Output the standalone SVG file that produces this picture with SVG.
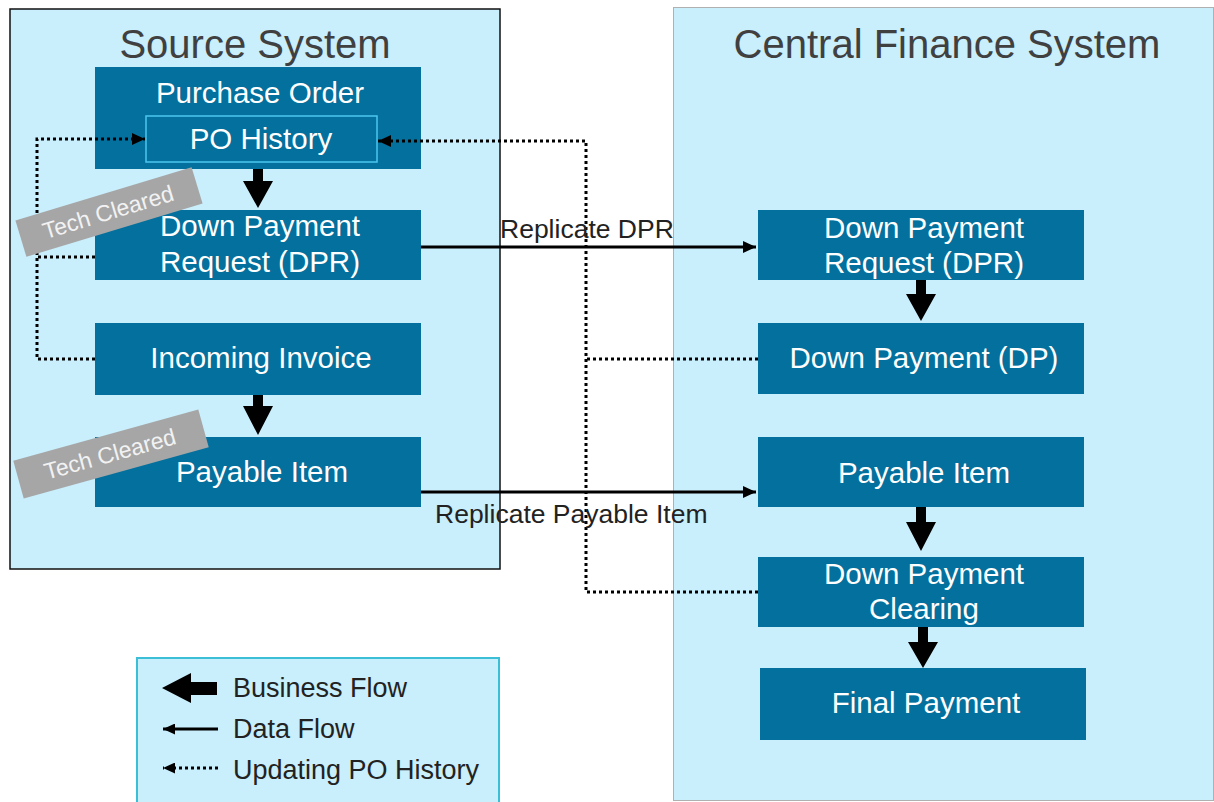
<svg xmlns="http://www.w3.org/2000/svg" width="1214" height="802" viewBox="0 0 1214 802">
<defs>
<style>
text{font-family:"Liberation Sans",Arial,sans-serif;}
.sys{fill:#c9eefc;}
.title{font-size:40px;fill:#404040;text-anchor:middle;}
.node{fill:#03709d;}
.nt{font-size:29.5px;fill:#ffffff;text-anchor:middle;}
.lbl{font-size:26.5px;fill:#222222;}
.leg{font-size:27px;fill:#222222;}
.dot{fill:none;stroke:#000;stroke-width:3;stroke-dasharray:3 3;}
.data{fill:none;stroke:#000;stroke-width:3;}
.tag{fill:#a6a6a6;}
.tt{font-size:23px;fill:#f2f2f2;text-anchor:middle;}
</style>
<marker id="ah" markerWidth="14" markerHeight="12" refX="13" refY="6" orient="auto" markerUnits="userSpaceOnUse"><path d="M0,0 L13,6 L0,12 z" fill="#000"/></marker>
<marker id="ahs" markerWidth="13" markerHeight="11" refX="12" refY="5.5" orient="auto" markerUnits="userSpaceOnUse"><path d="M0,0 L12,5.5 L0,11 z" fill="#000"/></marker>
</defs>
<rect width="1214" height="802" fill="#ffffff"/>

<g id="source-system">
<rect class="sys" x="10" y="9" width="490" height="560" stroke="#111" stroke-width="1.5"/>
<text class="title" x="255" y="58">Source System</text>
</g>
<g id="central-finance-system">
<rect class="sys" x="673.5" y="7.5" width="540" height="793" stroke="#b0b0b0" stroke-width="1"/>
<text class="title" x="947" y="58">Central Finance System</text>
</g>

<g id="purchase-order">
<rect class="node" x="95" y="67" width="326" height="102"/>
<text class="nt" x="260" y="103">Purchase Order</text>
</g>
<g id="po-history">
<rect x="146" y="116" width="231" height="46" fill="none" stroke="#4cc6ef" stroke-width="1.5"/>
<text class="nt" x="261" y="149">PO History</text>
</g>
<g id="src-dpr">
<rect class="node" x="95" y="210" width="326" height="70"/>
<text class="nt" x="260" y="236">Down Payment</text>
<text class="nt" x="260" y="272">Request (DPR)</text>
</g>
<g id="src-invoice">
<rect class="node" x="95" y="323" width="326" height="72"/>
<text class="nt" x="261" y="368">Incoming Invoice</text>
</g>
<g id="src-payable">
<rect class="node" x="95" y="437" width="326" height="70"/>
<text class="nt" x="262" y="482">Payable Item</text>
</g>

<g id="cf-dpr">
<rect class="node" x="758" y="210" width="326" height="70"/>
<text class="nt" x="924" y="238">Down Payment</text>
<text class="nt" x="924" y="273">Request (DPR)</text>
</g>
<g id="cf-dp">
<rect class="node" x="758" y="323" width="326" height="71"/>
<text class="nt" x="924" y="368">Down Payment (DP)</text>
</g>
<g id="cf-payable">
<rect class="node" x="758" y="437" width="326" height="70"/>
<text class="nt" x="924" y="483">Payable Item</text>
</g>
<g id="cf-clearing">
<rect class="node" x="758" y="557" width="326" height="70"/>
<text class="nt" x="924" y="584">Down Payment</text>
<text class="nt" x="924" y="619">Clearing</text>
</g>
<g id="cf-final">
<rect class="node" x="760" y="668" width="326" height="72"/>
<text class="nt" x="926" y="713">Final Payment</text>
</g>

<g id="connectors">
<path class="dot" d="M95,359 H37 V139 H145" marker-end="url(#ah)"/>
<path class="dot" d="M95,257 H37"/>
<path class="dot" d="M758,592 H586 V141 H378" marker-end="url(#ah)"/>
<path class="dot" d="M758,359 H586"/>
<path class="data" d="M421,247 H756" marker-end="url(#ah)"/>
<path class="data" d="M421,492 H756" marker-end="url(#ah)"/>
<text class="lbl" x="500" y="238">Replicate DPR</text>
<text class="lbl" x="435" y="523">Replicate Payable Item</text>
<polygon points="253,169 263,169 263,181 273,181 258,208 243,181 253,181"/>
<polygon points="253,395 263,395 263,406 273,406 258,435 243,406 253,406"/>
<polygon points="916,280 926,280 926,294 936,294 921,321 906,294 916,294"/>
<polygon points="916,507 926,507 926,522 936,522 921,551 906,522 916,522"/>
<polygon points="918,627 928,627 928,642 938,642 923,668 908,642 918,642"/>
</g>

<g id="tag-1">
<rect class="tag" x="-92" y="-19" width="184" height="38" transform="translate(109,212) rotate(-16.8)"/>
<text class="tt" x="0" y="8" transform="translate(108,212) rotate(-16.8)">Tech Cleared</text>
</g>
<g id="tag-2">
<rect class="tag" x="-96" y="-19.5" width="192" height="39" transform="translate(111,454) rotate(-15.5)"/>
<text class="tt" x="0" y="8" transform="translate(110,454) rotate(-15.5)">Tech Cleared</text>
</g>

<g id="legend">
<rect class="sys" x="137" y="658" width="362" height="150" stroke="#3bbfd6" stroke-width="2"/>
<polygon points="162,688 191,673 191,682 217,682 217,695 191,695 191,703"/>
<text class="leg" x="233" y="697">Business Flow</text>
<path class="data" d="M218,729 H163" marker-end="url(#ahs)"/>
<text class="leg" x="233" y="738">Data Flow</text>
<path class="dot" d="M218,768 H163" marker-end="url(#ahs)"/>
<text class="leg" x="233" y="779">Updating PO History</text>
</g>
</svg>
